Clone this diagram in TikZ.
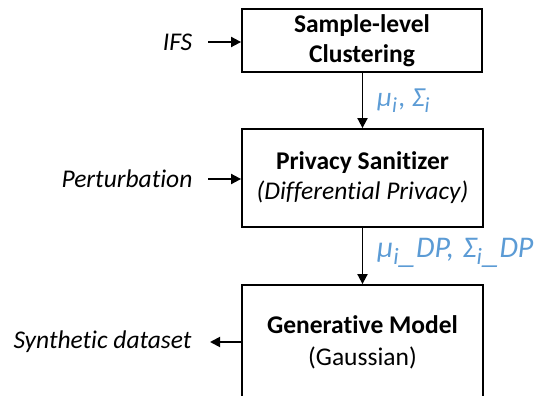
\documentclass[tikz,border=0pt]{standalone}
\usepackage{fontspec}
\setmainfont{Carlito}[RawFeature=-liga]
\usetikzlibrary{arrows.meta}
\definecolor{lblue}{RGB}{91,155,213}
\newcommand{\lsub}[1]{\raisebox{-0.22em}{\fontsize{0.78em}{1em}\selectfont #1}}
\newcommand{\lund}{\raisebox{-0.18em}{\scalebox{1.5}[1]{\_}}}
\begin{document}
\begin{tikzpicture}[x=1pt,y=-1pt,
  box/.style={draw,line width=1.8pt,inner sep=0pt,align=center,font=\fontsize{25.5}{30}\selectfont},
  conn/.style={line width=1.8pt,-{Triangle[length=10pt,width=10pt]}},
  side/.style={font=\fontsize{25.5}{30}\selectfont\itshape,inner sep=0pt},
  lbl/.style={text=lblue,inner sep=0pt,anchor=west}]
\useasboundingbox (0,0) rectangle (544,396);
\begin{scope}
\clip (0,0) rectangle (544,396);
\node[box,minimum width=240pt,minimum height=63pt] (clu) at (362,40.5) {\textbf{Sample-level}\\\textbf{Clustering}};
\node[box,minimum width=241pt,minimum height=98pt] (san) at (362.5,178) {\textbf{Privacy Sanitizer}\\\textit{(Differential Privacy)}};
\node[box,minimum width=241pt,minimum height=120pt] (gen) at (362.5,345) {};
\node[align=center,font=\fontsize{25.5}{32}\selectfont,inner sep=0pt] (gent) at (362.5,342) {\textbf{Generative Model}\\(Gaussian)};
\end{scope}
\node[side] (ifs) at (177.5,42) {IFS};
\node[side] (per) at (127,179) {Perturbation};
\node[side] (syn) at (102.5,342) {Synthetic dataset};
\coordinate (ifsE) at (208,42);
\coordinate (perE) at (208,179);
\coordinate (synE) at (210,342);
\draw[conn] (ifsE) -- (ifsE -| clu.west);
\draw[conn] (perE) -- (perE -| san.west);
\draw[conn] (synE -| gen.west) -- (synE);
\draw[conn] (san.north |- clu.south) -- (san.north);
\draw[conn] (san.south) -- (gen.north);
\node[lbl,font=\fontsize{27.5}{32}\selectfont\itshape] (l1) at (377,101) {μ\lsub{i}\kern2pt, Σ\lsub{i}};
\node[lbl,font=\fontsize{30}{34}\selectfont\itshape] (l2) at (377,253) {μ\lsub{i}\kern-2pt\lund\kern-3pt DP, \kern2ptΣ\lsub{i}\kern-2pt\lund\kern-3pt DP};
\end{tikzpicture}
\end{document}
